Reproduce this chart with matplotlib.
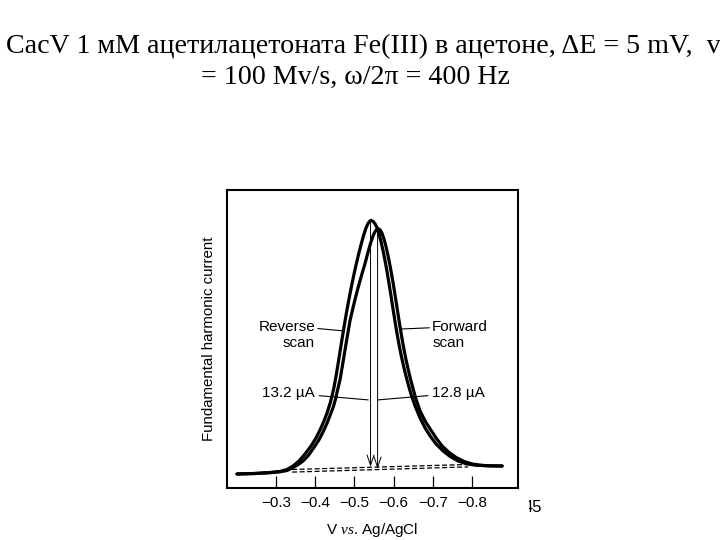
import matplotlib
matplotlib.use('Agg')
import matplotlib.pyplot as plt
from matplotlib.patches import Rectangle

plt.rcParams['font.family'] = ['Liberation Sans', 'DejaVu Sans']
plt.rcParams['mathtext.fontset'] = 'custom'
plt.rcParams['mathtext.it'] = 'Liberation Serif:italic'
plt.rcParams['mathtext.rm'] = 'Liberation Sans'

# Potencial (V vs. Ag/AgCl) y corriente del armonico fundamental (uA)
rev_v = [-0.2005, -0.2464, -0.2847, -0.3102, -0.3281, -0.3434, -0.3587, -0.3740, -0.3893,
         -0.4020, -0.4122, -0.4224, -0.4301, -0.4378, -0.4429, -0.4480, -0.4531, -0.4582,
         -0.4633, -0.4684, -0.4735, -0.4786, -0.4837, -0.4888, -0.4939, -0.4990, -0.5041,
         -0.5092, -0.5143, -0.5194, -0.5245, -0.5296, -0.5347, -0.5398, -0.5423, -0.5474,
         -0.5526, -0.5577, -0.5628, -0.5679, -0.5730, -0.5781, -0.5832, -0.5883, -0.5934,
         -0.5985, -0.6036, -0.6087, -0.6138, -0.6189, -0.6240, -0.6291, -0.6367, -0.6444,
         -0.6546, -0.6673, -0.6801, -0.6929, -0.7082, -0.7260, -0.7439, -0.7643, -0.7847,
         -0.8077, -0.8408, -0.8765]
rev_i = [0.757, 0.784, 0.838, 0.892, 1.000, 1.189, 1.459, 1.838, 2.270,
         2.703, 3.135, 3.622, 4.054, 4.568, 4.973, 5.459, 6.054, 6.703,
         7.378, 8.054, 8.703, 9.351, 9.946, 10.514, 11.054, 11.568, 12.054,
         12.514, 12.946, 13.351, 13.730, 14.054, 14.297, 14.432, 14.459, 14.405,
         14.270, 14.054, 13.730, 13.297, 12.811, 12.270, 11.676, 11.027, 10.351,
         9.649, 8.973, 8.324, 7.730, 7.189, 6.703, 6.243, 5.622, 5.054,
         4.432, 3.784, 3.243, 2.811, 2.378, 2.000, 1.703, 1.459, 1.314,
         1.232, 1.200, 1.189]

fwd_v = [-0.2005, -0.2464, -0.2847, -0.3102, -0.3281, -0.3408, -0.3548, -0.3689, -0.3829,
         -0.3969, -0.4097, -0.4199, -0.4301, -0.4378, -0.4467, -0.4518, -0.4569, -0.4633,
         -0.4684, -0.4735, -0.4786, -0.4837, -0.4888, -0.4952, -0.5015, -0.5079, -0.5143,
         -0.5207, -0.5270, -0.5321, -0.5372, -0.5423, -0.5474, -0.5526, -0.5577, -0.5602,
         -0.5653, -0.5704, -0.5755, -0.5806, -0.5857, -0.5908, -0.5959, -0.6010, -0.6061,
         -0.6112, -0.6163, -0.6214, -0.6265, -0.6316, -0.6367, -0.6418, -0.6495, -0.6571,
         -0.6673, -0.6801, -0.6929, -0.7082, -0.7235, -0.7413, -0.7592, -0.7796, -0.8000,
         -0.8230, -0.8485, -0.8765]
fwd_i = [0.757, 0.784, 0.827, 0.876, 0.946, 1.081, 1.243, 1.459, 1.773,
         2.195, 2.611, 3.032, 3.503, 3.924, 4.422, 4.811, 5.286, 5.865,
         6.492, 7.146, 7.805, 8.432, 9.059, 9.638, 10.189, 10.714, 11.211,
         11.681, 12.130, 12.546, 12.941, 13.308, 13.622, 13.859, 13.989, 14.016,
         13.946, 13.757, 13.432, 13.027, 12.541, 12.000, 11.405, 10.757, 10.081,
         9.378, 8.703, 8.054, 7.459, 6.919, 6.432, 5.973, 5.351, 4.784,
         4.162, 3.622, 3.189, 2.703, 2.270, 1.919, 1.649, 1.432, 1.297,
         1.227, 1.195, 1.189]

# lineas base (discontinuas)
base_v = [-0.341, -0.790]
base_upper = [1.00, 1.27]
base_lower = [0.86, 1.14]

# flechas de altura de pico
peak_v = [-0.541, -0.559]
peak_top = [14.30, 13.89]
peak_base = [1.14, 1.03]
peak_labels = ['13.2 µA', '12.8 µA']

xticks = [-0.3, -0.4, -0.5, -0.6, -0.7, -0.8]

fig = plt.figure(figsize=(7.2, 5.4), dpi=100)
ax = fig.add_axes([227 / 720, 1 - 488 / 540, 291 / 720, 298 / 540])

ax.plot(rev_v, rev_i, color='black', lw=2.3, solid_capstyle='round', solid_joinstyle='round')
ax.plot(fwd_v, fwd_i, color='black', lw=2.3, solid_capstyle='round', solid_joinstyle='round')
ax.plot(base_v, base_upper, color='black', lw=0.9, ls=(0, (4, 2)))
ax.plot(base_v, base_lower, color='black', lw=0.9, ls=(0, (4, 2)))

for v, top, bot in zip(peak_v, peak_top, peak_base):
    ax.annotate('', xy=(v, bot), xytext=(v, top),
                arrowprops=dict(arrowstyle='->,head_length=0.75,head_width=0.25',
                                color='black', lw=0.7, shrinkA=0, shrinkB=0))

# etiquetas con lineas guia
ax.annotate('Reverse\nscan', xy=(-0.471, 8.49), xytext=(-0.3995, 8.27),
            ha='right', va='center', fontsize=11, multialignment='right',
            arrowprops=dict(arrowstyle='-', lw=0.8, color='black', shrinkA=0, shrinkB=0,
                            relpos=(1.0, 0.72)))
ax.annotate('Forward\nscan', xy=(-0.619, 8.59), xytext=(-0.698, 8.27),
            ha='left', va='center', fontsize=11, multialignment='left',
            arrowprops=dict(arrowstyle='-', lw=0.8, color='black', shrinkA=0, shrinkB=0,
                            relpos=(0.0, 0.74)))
ax.annotate(peak_labels[0], xy=(-0.535, 4.76), xytext=(-0.3995, 5.13),
            ha='right', va='center', fontsize=11,
            arrowprops=dict(arrowstyle='-', lw=0.8, color='black', shrinkA=1, shrinkB=0))
ax.annotate(peak_labels[1], xy=(-0.560, 4.76), xytext=(-0.698, 5.13),
            ha='left', va='center', fontsize=11,
            arrowprops=dict(arrowstyle='-', lw=0.8, color='black', shrinkA=1, shrinkB=0))

ax.set_xlim(-0.175, -0.917)
ax.set_ylim(0, 16.1)
ax.set_xticks(xticks)
ax.set_xticklabels(['\u2212%.1f' % abs(t) for t in xticks])
ax.tick_params(axis='x', direction='in', length=8.5, width=0.9, labelsize=11, pad=6)
ax.set_yticks([])
for s in ax.spines.values():
    s.set_linewidth(1.5)

ax.set_xlabel(r'V $\mathit{vs.}\,$Ag/AgCl', fontsize=11, labelpad=8)
ax.set_ylabel('Fundamental harmonic current', fontsize=10.8, labelpad=8)

# titulo de la diapositiva
fig.text(363 / 720, 1 - 47 / 540,
         'CacV 1 мМ ацетилацетоната Fe(III) в ацетоне, ΔE = 5 mV,  v',
         ha='center', va='center', fontsize=20.2, family=['Liberation Serif', 'DejaVu Serif'])
fig.text(355 / 720, 1 - 77 / 540, '= 100 Mv/s, ω/2π = 400 Hz',
         ha='center', va='center', fontsize=20.2, family=['Liberation Serif', 'DejaVu Serif'])

# numero de pagina (parcialmente tapado)
fig.text(542 / 720, 1 - 508 / 540, '45', ha='right', va='center', fontsize=12)
fig.patches.append(Rectangle((519 / 720, 1 - 520 / 540), 10 / 720, 25 / 540,
                             transform=fig.transFigure, facecolor='white',
                             edgecolor='none', zorder=5))

fig.savefig('out.png', dpi=100)
